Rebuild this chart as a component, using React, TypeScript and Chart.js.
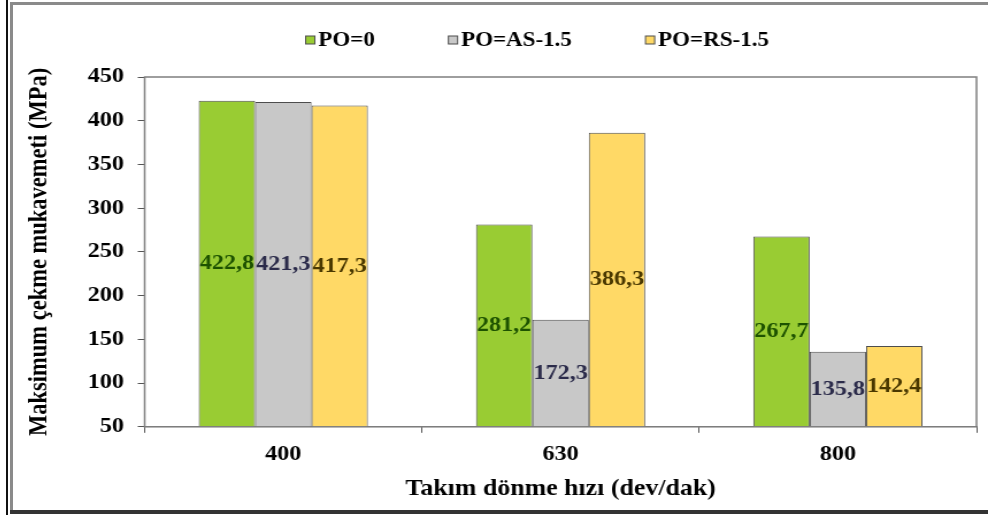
import React, { useEffect, useRef } from "react";
import { Chart, registerables } from "chart.js";
Chart.register(...registerables);

const categories = ["400", "630", "800"];
const seriesNames = ["PO=0", "PO=AS-1.5", "PO=RS-1.5"];
const po0 = [422.8, 281.2, 267.7];
const poAS = [421.3, 172.3, 135.8];
const poRS = [417.3, 386.3, 142.4];
const yTicks = [50, 100, 150, 200, 250, 300, 350, 400, 450];

const FONT = "'Liberation Serif', 'Times New Roman', serif";
const fills = ["#99CC33", "#C8C8C8", "#FFD966"];
const labelColors = ["#1D5200", "#2B2B4A", "#4A3800"];

const CANVAS_W = 848;
const CANVAS_H = 505;
const STRETCH = 975 / CANVAS_W;

const frameBox = {
  id: "frameBox",
  afterDatasetsDraw(chart: any) {
    const { ctx, chartArea: a } = chart;
    ctx.save();
    ctx.strokeStyle = "#7F7F7F";
    ctx.lineWidth = 1.5;
    ctx.strokeRect(a.left, a.top, a.right - a.left, a.bottom - a.top);
    ctx.restore();
  },
};

const valueLabels = {
  id: "valueLabels",
  afterDatasetsDraw(chart: any) {
    const { ctx, chartArea } = chart;
    ctx.save();
    ctx.font = `bold 21px ${FONT}`;
    ctx.textAlign = "center";
    ctx.textBaseline = "middle";
    chart.data.datasets.forEach((ds: any, i: number) => {
      const meta = chart.getDatasetMeta(i);
      meta.data.forEach((bar: any, j: number) => {
        const v = ds.data[j];
        const base = Math.min(bar.base, chartArea.bottom);
        const y = (bar.y + base) / 2;
        ctx.fillStyle = labelColors[i];
        ctx.fillText(v.toFixed(1).replace(".", ","), bar.x, y);
      });
    });
    ctx.restore();
  },
};

const topLegend = {
  id: "topLegend",
  afterDraw(chart: any) {
    const { ctx } = chart;
    const ds = chart.data.datasets;
    ctx.save();
    ctx.font = `bold 20px ${FONT}`;
    ctx.textBaseline = "middle";
    const box = 8;
    const gap = 3;
    const itemGap = 64;
    const widths = ds.map((d: any) => box + gap + ctx.measureText(d.label).width);
    const total = widths.reduce((s: number, w: number) => s + w, 0) + itemGap * (ds.length - 1);
    let x = 456 - total / 2;
    const cy = 35;
    ds.forEach((d: any, i: number) => {
      ctx.fillStyle = d.backgroundColor;
      ctx.fillRect(x, cy - box / 2, box, box);
      ctx.strokeStyle = "#4D4D4D";
      ctx.lineWidth = 1;
      ctx.strokeRect(x, cy - box / 2, box, box);
      ctx.fillStyle = "#000";
      ctx.fillText(d.label, x + box + gap, cy + 1);
      x += widths[i] + itemGap;
    });
    ctx.restore();
  },
};

export default function App() {
  const ref = useRef<HTMLCanvasElement>(null);
  useEffect(() => {
    const data = [po0, poAS, poRS];
    const chart = new Chart(ref.current!, {
      type: "bar",
      data: {
        labels: categories,
        datasets: seriesNames.map((n, i) => ({
          label: n,
          data: data[i],
          backgroundColor: fills[i],
          borderColor: "#4D4D4D",
          borderWidth: 1,
          borderSkipped: "bottom",
          barPercentage: 1,
          categoryPercentage: 0.61,
        })),
      },
      options: {
        animation: false,
        responsive: false,
        devicePixelRatio: 1,
        layout: { padding: { left: 10, right: 10, top: 72, bottom: 7 } },
        plugins: {
          legend: { display: false },
          tooltip: { enabled: false },
        },
        scales: {
          x: {
            grid: { display: true, drawOnChartArea: false, drawTicks: true, tickLength: 6, color: "#555" },
            border: { display: true, color: "#555" },
            ticks: { color: "#000", font: { family: FONT, size: 21, weight: "bold" }, padding: 9 },
            title: {
              display: true,
              text: "Takım dönme hızı (dev/dak)",
              color: "#000",
              font: { family: FONT, size: 22.5, weight: "bold" },
              padding: { top: 0, bottom: 0 },
            },
          },
          y: {
            min: 50,
            max: 450,
            afterBuildTicks: (axis: any) => {
              axis.ticks = yTicks.map((v) => ({ value: v }));
            },
            grid: { display: true, drawOnChartArea: false, drawTicks: true, tickLength: 6, color: "#555" },
            border: { display: true, color: "#555" },
            ticks: { color: "#000", font: { family: FONT, size: 21, weight: "bold" }, padding: 12 },
            title: {
              display: true,
              text: "Maksimum çekme mukavemeti (MPa)",
              color: "#000",
              font: { family: FONT, size: 22.5, weight: "bold" },
              padding: { top: 0, bottom: 16 },
            },
          },
        },
      },
      plugins: [frameBox, valueLabels, topLegend],
    });
    return () => chart.destroy();
  }, []);

  return (
    <div style={{ position: "absolute", left: 0, top: 0, width: 988, height: 515, background: "#fff", overflow: "hidden" }}>
      <div style={{ position: "absolute", left: 6, top: 0, width: 2, height: 515, background: "#111" }} />
      <div style={{ position: "absolute", left: 10, top: 2, width: 3, height: 508, background: "#8a8a8a" }} />
      <div style={{ position: "absolute", left: 10, top: 2, width: 978, height: 3, background: "#8a8a8a" }} />
      <div style={{ position: "absolute", left: 10, top: 510, width: 978, height: 4, background: "#333" }} />
      <canvas
        ref={ref}
        width={CANVAS_W}
        height={CANVAS_H}
        style={{
          position: "absolute",
          left: 13,
          top: 5,
          transform: `scaleX(${STRETCH})`,
          transformOrigin: "0 0",
        }}
      />
    </div>
  );
}
